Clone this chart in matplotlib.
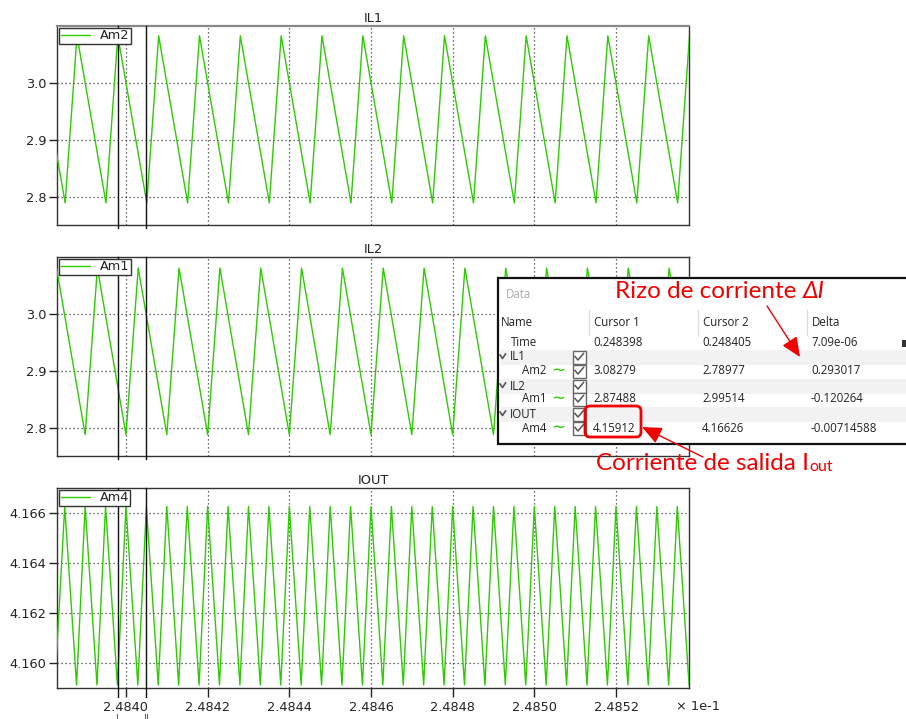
import numpy as np
import matplotlib
matplotlib.use("Agg")
import matplotlib.pyplot as plt
from matplotlib.patches import Rectangle, FancyBboxPatch, FancyArrowPatch

# ---------------- waveform vertices (time in seconds) ----------------
il1_peak_t = [0.248378, 0.248388, 0.248398, 0.248408, 0.248418, 0.248428,
              0.248438, 0.248448, 0.248458, 0.248468, 0.248478, 0.248488,
              0.248498, 0.248508, 0.248518, 0.248528, 0.248538]
il1_valley_t = [0.2483851, 0.2483951, 0.2484051, 0.2484151, 0.2484251,
                0.2484351, 0.2484451, 0.2484551, 0.2484651, 0.2484751,
                0.2484851, 0.2484951, 0.2485051, 0.2485151, 0.2485251,
                0.2485351]
il1_peak = 3.08279
il1_valley = 2.78977

il2_peak_t = [0.248383, 0.248393, 0.248403, 0.248413, 0.248423, 0.248433,
              0.248443, 0.248453, 0.248463, 0.248473, 0.248483, 0.248493,
              0.248503, 0.248513, 0.248523, 0.248533]
il2_valley_t = [0.248380, 0.248390, 0.248400, 0.248410, 0.248420, 0.248430,
                0.248440, 0.248450, 0.248460, 0.248470, 0.248480, 0.248490,
                0.248500, 0.248510, 0.248520, 0.248530, 0.248540]
il2_peak = 3.0805
il2_valley = 2.7885

iout_peak_t = [0.248380, 0.248385, 0.248390, 0.248395, 0.248400, 0.248405,
               0.248410, 0.248415, 0.248420, 0.248425, 0.248430, 0.248435,
               0.248440, 0.248445, 0.248450, 0.248455, 0.248460, 0.248465,
               0.248470, 0.248475, 0.248480, 0.248485, 0.248490, 0.248495,
               0.248500, 0.248505, 0.248510, 0.248515, 0.248520, 0.248525,
               0.248530, 0.248535]
iout_valley_t = [0.2483826, 0.2483879, 0.2483929, 0.2483979, 0.2484029,
                 0.2484079, 0.2484129, 0.2484179, 0.2484229, 0.2484279,
                 0.2484329, 0.2484379, 0.2484429, 0.2484479, 0.2484529,
                 0.2484579, 0.2484629, 0.2484679, 0.2484729, 0.2484779,
                 0.2484829, 0.2484879, 0.2484929, 0.2484979, 0.2485029,
                 0.2485079, 0.2485129, 0.2485179, 0.2485229, 0.2485279,
                 0.2485329, 0.2485379]
iout_peak = 4.16626
iout_valley = 4.15912

# ---------------- cursors and data table ----------------
cursor_times = [0.248398, 0.248405]
time_delta = "7.09e-06"
groups = ["IL1", "IL2", "IOUT"]
probes = ["Am2", "Am1", "Am4"]
cursor1_vals = ["3.08279", "2.87488", "4.15912"]
cursor2_vals = ["2.78977", "2.99514", "4.16626"]
delta_vals = ["0.293017", "-0.120264", "-0.00714588"]

# ---------------- axes settings ----------------
x_range = (0.24838318, 0.24853795)
x_ticks = [0.24840, 0.24842, 0.24844, 0.24846, 0.24848, 0.24850, 0.24852]
il_ticks = [2.8, 2.9, 3.0]
iout_ticks = [4.160, 4.162, 4.164, 4.166]
il_range = (2.751, 3.100)
iout_range = (4.159, 4.167)

GREEN = "#2bcc00"
RED = "#f00000"
DARK = "#222222"
W, H = 906, 719


def vertices(peak_t, peak_v, valley_t, valley_v):
    pts = [(t, peak_v) for t in peak_t] + [(t, valley_v) for t in valley_t]
    pts.sort()
    return [p[0] for p in pts], [p[1] for p in pts]


fig = plt.figure(figsize=(W / 100, H / 100), dpi=100)
fig.patch.set_facecolor("white")


def px_axes(left, top, right, bottom):
    return fig.add_axes([left / W, 1 - bottom / H, (right - left) / W,
                         (bottom - top) / H])


panels = [
    ("IL1", "Am2", vertices(il1_peak_t, il1_peak, il1_valley_t, il1_valley),
     il_ticks, il_range, "{:.1f}", (26, 225)),
    ("IL2", "Am1", vertices(il2_peak_t, il2_peak, il2_valley_t, il2_valley),
     il_ticks, il_range, "{:.1f}", (257, 456)),
    ("IOUT", "Am4", vertices(iout_peak_t, iout_peak, iout_valley_t, iout_valley),
     iout_ticks, iout_range, "{:.3f}", (488, 688)),
]

for i, (title, probe, (tt, vv), yt, yr, fmt, (top, bot)) in enumerate(panels):
    ax = px_axes(57.3, top, 689.3, bot)
    ax.plot(tt, vv, color=GREEN, lw=1.0, label=probe, zorder=3)
    ax.set_xlim(*x_range)
    ax.set_ylim(*yr)
    ax.set_yticks(yt)
    ax.set_yticklabels([fmt.format(v) for v in yt])
    ax.set_xticks(x_ticks)
    ax.grid(True, color="#3a3a3a", lw=0.9, linestyle=(0, (1.0, 2.2)))
    ax.tick_params(axis="y", length=5.5, width=1, pad=2.5, colors=DARK,
                   labelsize=9.3)
    last = i == len(panels) - 1
    if last:
        ax.set_xticklabels(["{:.4f}".format(x * 10) for x in x_ticks])
        ax.tick_params(axis="x", length=6.5, width=1, pad=3, colors=DARK,
                       labelsize=9.3)
    else:
        ax.tick_params(axis="x", bottom=False, labelbottom=False)
    for s in ax.spines.values():
        s.set_color("#333333")
        s.set_linewidth(1.0)
    if i == 0:
        ax.spines["top"].set_color("#888888")
        ax.spines["top"].set_linewidth(1.6)
    ax.set_title(title, fontsize=9.3, color=DARK, pad=3)
    ext = -0.045 if last else -0.015
    for c in cursor_times:
        ax.axvline(c, ymin=ext, ymax=1, color="#111111", lw=1.0,
                   clip_on=False, zorder=4)
    leg = ax.legend(loc="upper left", fontsize=9.3, borderpad=0.12,
                    borderaxespad=0.15, handlelength=2.3, handletextpad=0.7,
                    fancybox=False, framealpha=1, edgecolor="#333333")
    leg.get_frame().set_linewidth(1.0)
    for t in leg.get_texts():
        t.set_color(DARK)

# ---------------- overlay in pixel coordinates ----------------
ov = fig.add_axes([0, 0, 1, 1], zorder=20)
ov.set_xlim(0, W)
ov.set_ylim(H, 0)
ov.axis("off")
ov.patch.set_alpha(0)

ov.text(676, 707, "× 1e-1", fontsize=9.3, color=DARK, ha="left",
        va="center")
# cursor markers under the time axis
ov.plot([117, 117], [713.5, 719], color="#666666", lw=0.8)
ov.plot([144.5, 144.5], [713.5, 719], color="#666666", lw=0.8)
ov.plot([147, 147], [713.5, 719], color="#666666", lw=0.8)

# data panel
TF = "Open Sans"
tfs = 8.3
ov.add_patch(Rectangle((497.5, 278), 430, 166, fc="white", ec="#111111",
                       lw=1.6, zorder=1))
ov.text(506, 295, "Data", fontsize=tfs, color="#aaaaaa", family=TF,
        va="center", zorder=3)

col_x = [593, 702, 811]
for xs in [589, 698, 807]:
    ov.plot([xs, xs], [310, 335], color="#dddddd", lw=1.0, zorder=2)
ov.text(501, 323, "Name", fontsize=tfs, color=DARK, family=TF, va="center",
        zorder=3)
for x, h in zip(col_x, ["Cursor 1", "Cursor 2", "Delta"]):
    ov.text(x + 1, 323, h, fontsize=tfs, color=DARK, family=TF, va="center",
            zorder=3)

ov.text(511, 343, "Time", fontsize=tfs, color=DARK, family=TF, va="center",
        zorder=3)
for x, s in zip(col_x, ["{:.6f}".format(cursor_times[0]),
                        "{:.6f}".format(cursor_times[1]), time_delta]):
    ov.text(x, 343, s, fontsize=tfs, color=DARK, family=TF, va="center",
            zorder=3)
ov.add_patch(Rectangle((902, 340), 6, 7, fc="#333333", ec="none", zorder=3))


def checkbox(yc):
    ov.add_patch(Rectangle((572.5, yc - 6.5), 13, 13, fc="white",
                           ec="#666666", lw=1.0, zorder=3))
    ov.plot([575, 578, 583.5], [yc - 0.5, yc + 3, yc - 3.5], color="#555555",
            lw=1.1, zorder=4)


group_y = [357, 386, 414]
probe_y = [371, 399, 428]
for g, p, gy, py, c1, c2, d in zip(groups, probes, group_y, probe_y,
                                   cursor1_vals, cursor2_vals, delta_vals):
    ov.add_patch(Rectangle((499, gy - 7.5), 420, 15, fc="#f2f2f2",
                           ec="none", zorder=2))
    ov.plot([500, 502.5, 505.5], [gy - 2, gy + 1.5, gy - 3],
            color="#555555", lw=1.2, zorder=3)
    ov.text(510, gy, g, fontsize=tfs, color=DARK, family=TF, va="center",
            zorder=3)
    checkbox(gy)
    ov.text(522, py, p, fontsize=tfs, color=DARK, family=TF, va="center",
            zorder=3)
    ov.text(558.5, py - 1, "∼", fontsize=12, color=GREEN, ha="center",
            va="center", zorder=3)
    checkbox(py)
    for x, s in zip(col_x, [c1, c2, d]):
        ov.text(x, py, s, fontsize=tfs, color=DARK, family=TF, va="center",
                zorder=3)

# highlight of the output current value
ov.add_patch(FancyBboxPatch((585, 406), 56, 31,
                            boxstyle="round,pad=0,rounding_size=5",
                            fc="none", ec=RED, lw=2.0, zorder=6))

# red call-outs
AF = "Lato"
afs = 17.5
t1 = ov.text(615, 298, "Rizo de corriente ", fontsize=afs, color=RED,
             family=AF, va="baseline", zorder=6)
ov.annotate("ΔI", xy=(1, 0), xycoords=t1, fontsize=afs, color=RED,
            family=AF, style="italic", ha="left", va="bottom", zorder=6)
t2 = ov.text(596, 470, "Corriente de salida I", fontsize=afs, color=RED,
             family=AF, va="baseline", zorder=6)
ov.annotate("out", xy=(1, 0), xycoords=t2, fontsize=11.5, color=RED,
            family=AF, ha="left", va="bottom", zorder=6)

for tail, tip in [((767, 306), (800, 357)), ((703, 457), (642, 427))]:
    ov.add_patch(FancyArrowPatch(tail, tip,
                                 arrowstyle="-|>,head_length=0.8,head_width=0.35",
                                 mutation_scale=15, color=RED, lw=1.0,
                                 shrinkA=0, shrinkB=0, zorder=7))

fig.savefig("out.png", dpi=100)
